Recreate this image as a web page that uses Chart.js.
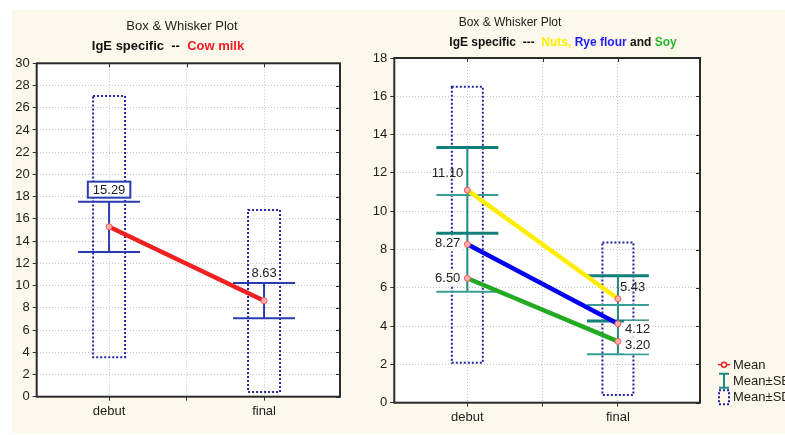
<!DOCTYPE html>
<html>
<head>
<meta charset="utf-8">
<script src="https://cdn.jsdelivr.net/npm/chart.js@4.4.1/dist/chart.umd.min.js"></script>
<style>
body{margin:0;background:#fff;width:785px;height:435px;overflow:hidden;position:relative}
#fondo{position:absolute;left:12px;top:10px;width:773px;height:423px;background:#fdf8ec}
#caja1{position:absolute;left:12px;top:10px;width:343px;height:423px}
#caja2{position:absolute;left:355px;top:10px;width:430px;height:423px}
</style>
</head>
<body>
<div id="fondo"></div>
<div id="caja1"><canvas id="leche" width="343" height="423"></canvas></div>
<div id="caja2"><canvas id="otros" width="430" height="423"></canvas></div>
<script>
// categorías (eje x lineal: debut = 1, final = 2)
var categorias = ['debut', 'final'];
var posiciones = [1, 2];

// gráfico izquierdo: Cow milk
var mediaLeche = [15.29, 8.63];
var seLecheMin = [13.02, 7.05];
var seLecheMax = [17.55, 10.23];
var sdLecheMin = [3.55, 0.42];
var sdLecheMax = [27.05, 16.8];

// gráfico derecho: Nuts, Rye flour, Soy
var mediaNuts = [11.10, 5.43];
var mediaRye = [8.27, 4.12];
var mediaSoy = [6.50, 3.20];
var seNutsMin = [8.85, 4.27];
var seNutsMax = [13.32, 6.63];
var seRyeMin = [5.8, 2.53];
var seRyeMax = [10.85, 5.1];
var sdOtrosMin = [2.09, 0.4];
var sdOtrosMax = [16.5, 8.36];

var FUENTE = '"Liberation Sans", Arial, sans-serif';

function puntos(valores) {
    return posiciones.map(function (x, i) { return {x: x, y: valores[i]}; });
}

// configuración de cajas, bigotes y etiquetas por canvas
var extras = {
    leche: {
        sd: {min: sdLecheMin, max: sdLecheMax, medio: 16},
        se: [{min: seLecheMin, max: seLecheMax, color: '#2a3cb0', ancho: 2}],
        colorSe: '#2a3cb0',
        etiquetas: [
            {x: 1, y: seLecheMax[0], texto: mediaLeche[0].toFixed(2), dx: 0, dy: -12, align: 'center', caja: true},
            {x: 2, y: seLecheMax[1], texto: mediaLeche[1].toFixed(2), dx: 0, dy: -10, align: 'center'}
        ],
        titulo: {x: 170, y: 16, x2: 156, y2: 36, tam: 13,
            partes: [['IgE specific  --  ', '#111'], ['Cow milk', '#ee1c24']]}
    },
    otros: {
        sd: {min: sdOtrosMin, max: sdOtrosMax, medio: 15.5},
        se: [{min: seNutsMin, max: seNutsMax, color: '#12807a', ancho: 3},
             {min: seRyeMin, max: seRyeMax, color: '#3a9e98', ancho: 2}],
        colorSe: '#1f8a84',
        etiquetas: [
            {x: 1, y: mediaNuts[0], texto: mediaNuts[0].toFixed(2), dx: -4, dy: -17, align: 'right'},
            {x: 1, y: mediaRye[0], texto: mediaRye[0].toFixed(2), dx: -7, dy: -1, align: 'right', fondo: true},
            {x: 1, y: mediaSoy[0], texto: mediaSoy[0].toFixed(2), dx: -7, dy: -0.5, align: 'right', fondo: true},
            {x: 2, y: mediaNuts[1], texto: mediaNuts[1].toFixed(2), dx: 2, dy: -12, align: 'left'},
            {x: 2, y: mediaRye[1], texto: mediaRye[1].toFixed(2), dx: 7, dy: 5, align: 'left', fondo: true},
            {x: 2, y: mediaSoy[1], texto: mediaSoy[1].toFixed(2), dx: 7, dy: 4, align: 'left', fondo: true}
        ],
        titulo: {x: 155, y: 13, x2: 208, y2: 33, tam: 12,
            partes: [['IgE specific  ---  ', '#111'], ['Nuts, ', '#ffee00'], ['Rye flour', '#1c1cff'],
                     [' and ', '#111'], ['Soy', '#2db52d']]},
        leyenda: true
    }
};

var pluginCajas = {
    id: 'cajas',
    beforeDraw: function (chart) {
        var a = chart.chartArea, ctx = chart.ctx;
        ctx.save();
        ctx.fillStyle = '#ffffff';
        ctx.fillRect(a.left, a.top, a.width, a.height);
        ctx.restore();
    },
    beforeDatasetsDraw: function (chart) {
        var cfg = extras[chart.canvas.id];
        var ctx = chart.ctx, sx = chart.scales.x, sy = chart.scales.y;
        ctx.save();
        // cajas Mean±SD punteadas
        ctx.strokeStyle = '#2323a8';
        ctx.lineWidth = 2;
        ctx.setLineDash([2, 2]);
        posiciones.forEach(function (p, i) {
            var cx = sx.getPixelForValue(p);
            var y1 = sy.getPixelForValue(cfg.sd.max[i]);
            var y2 = sy.getPixelForValue(cfg.sd.min[i]);
            ctx.strokeRect(cx - cfg.sd.medio, y1, cfg.sd.medio * 2, y2 - y1);
        });
        ctx.setLineDash([]);
        // bigotes Mean±SE
        posiciones.forEach(function (p, i) {
            var cx = sx.getPixelForValue(p);
            var alto = Math.max.apply(null, cfg.se.map(function (s) { return s.max[i]; }));
            var bajo = Math.min.apply(null, cfg.se.map(function (s) { return s.min[i]; }));
            ctx.strokeStyle = cfg.colorSe;
            ctx.lineWidth = 2;
            ctx.beginPath();
            ctx.moveTo(cx, sy.getPixelForValue(alto));
            ctx.lineTo(cx, sy.getPixelForValue(bajo));
            ctx.stroke();
            cfg.se.forEach(function (s) {
                ctx.strokeStyle = s.color;
                ctx.lineWidth = s.ancho;
                [s.max[i], s.min[i]].forEach(function (v) {
                    var py = sy.getPixelForValue(v);
                    ctx.beginPath();
                    ctx.moveTo(cx - 31, py);
                    ctx.lineTo(cx + 31, py);
                    ctx.stroke();
                });
            });
        });
        ctx.restore();
    },
    afterDatasetsDraw: function (chart) {
        var cfg = extras[chart.canvas.id];
        var ctx = chart.ctx, sx = chart.scales.x, sy = chart.scales.y;
        ctx.save();
        ctx.font = '13px ' + FUENTE;
        ctx.textBaseline = 'middle';
        ctx.textAlign = 'left';
        cfg.etiquetas.forEach(function (e) {
            var px = sx.getPixelForValue(e.x) + e.dx;
            var py = sy.getPixelForValue(e.y) + e.dy;
            var w = ctx.measureText(e.texto).width;
            var x0 = e.align === 'center' ? px - w / 2 : (e.align === 'right' ? px - w : px);
            if (e.fondo) {
                ctx.fillStyle = '#ffffff';
                ctx.fillRect(x0 - 1, py - 8, w + 2, 16);
            }
            if (e.caja) {
                ctx.fillStyle = '#ffffff';
                ctx.fillRect(x0 - 5, py - 8, w + 10, 16);
                ctx.strokeStyle = '#2a3cb0';
                ctx.lineWidth = 2;
                ctx.strokeRect(x0 - 5, py - 8, w + 10, 16);
            }
            ctx.fillStyle = '#222';
            ctx.fillText(e.texto, x0, py + 0.5);
        });
        ctx.restore();
    },
    afterDraw: function (chart) {
        var cfg = extras[chart.canvas.id];
        var a = chart.chartArea, ctx = chart.ctx, sx = chart.scales.x, sy = chart.scales.y;
        ctx.save();
        // marco del área
        ctx.strokeStyle = '#2b2b2b';
        ctx.lineWidth = 2;
        ctx.strokeRect(a.left, a.top, a.width, a.height);
        // marcas interiores derecha y arriba
        ctx.lineWidth = 1;
        sy.ticks.forEach(function (t) {
            var py = Math.round(sy.getPixelForValue(t.value)) + 0.5;
            ctx.beginPath(); ctx.moveTo(a.right - 4, py); ctx.lineTo(a.right, py); ctx.stroke();
        });
        sx.ticks.forEach(function (t) {
            var px = Math.round(sx.getPixelForValue(t.value)) + 0.5;
            ctx.beginPath(); ctx.moveTo(px, a.top); ctx.lineTo(px, a.top + 4); ctx.stroke();
        });
        // títulos
        var t = cfg.titulo;
        ctx.textBaseline = 'middle';
        ctx.textAlign = 'center';
        ctx.fillStyle = '#222';
        ctx.font = t.tam + 'px ' + FUENTE;
        ctx.fillText('Box & Whisker Plot', t.x, t.y);
        ctx.font = 'bold ' + t.tam + 'px ' + FUENTE;
        ctx.textAlign = 'left';
        var total = 0;
        t.partes.forEach(function (p) { total += ctx.measureText(p[0]).width; });
        var xp = t.x2 - total / 2;
        t.partes.forEach(function (p) {
            ctx.fillStyle = p[1];
            ctx.fillText(p[0], xp, t.y2);
            xp += ctx.measureText(p[0]).width;
        });
        // leyenda
        if (cfg.leyenda) {
            var lx = a.right + 18;
            var filas = [a.bottom - 38, a.bottom - 22, a.bottom - 5.5];
            ctx.strokeStyle = '#ee2222';
            ctx.lineWidth = 1.5;
            ctx.beginPath(); ctx.moveTo(lx, filas[0]); ctx.lineTo(lx + 12, filas[0]); ctx.stroke();
            ctx.fillStyle = '#fff';
            ctx.beginPath(); ctx.arc(lx + 6, filas[0], 2.5, 0, Math.PI * 2); ctx.fill(); ctx.stroke();
            ctx.strokeStyle = '#1f8a84';
            ctx.lineWidth = 2;
            ctx.beginPath();
            ctx.moveTo(lx + 1, filas[1] - 7); ctx.lineTo(lx + 11, filas[1] - 7);
            ctx.moveTo(lx + 6, filas[1] - 7); ctx.lineTo(lx + 6, filas[1] + 7);
            ctx.moveTo(lx + 1, filas[1] + 7); ctx.lineTo(lx + 11, filas[1] + 7);
            ctx.stroke();
            ctx.strokeStyle = '#2323a8';
            ctx.setLineDash([2, 2]);
            ctx.strokeRect(lx + 1, filas[2] - 7, 10, 14);
            ctx.setLineDash([]);
            ctx.font = '13px ' + FUENTE;
            ctx.fillStyle = '#222';
            ['Mean', 'Mean\u00b1SE', 'Mean\u00b1SD'].forEach(function (txt, i) {
                ctx.fillText(txt, lx + 15, filas[i] + 0.5);
            });
        }
        ctx.restore();
    }
};

function opciones(yMax, xMin, xMax, anchoY, altoX, relleno) {
    return {
        responsive: false,
        animation: false,
        layout: {padding: relleno},
        plugins: {legend: {display: false}, tooltip: {enabled: false}, title: {display: false}},
        scales: {
            x: {
                type: 'linear', min: xMin, max: xMax,
                afterBuildTicks: function (s) { s.ticks = [{value: 1}, {value: 1.5}, {value: 2}]; },
                afterFit: function (s) { s.height = altoX; },
                ticks: {
                    callback: function (v) { return categorias[posiciones.indexOf(v)] || ''; },
                    color: '#222', font: {size: 13, family: FUENTE}, padding: 3, maxRotation: 0, autoSkip: false
                },
                grid: {color: '#c4c4c4', tickColor: '#333', tickLength: 4},
                border: {display: false, dash: [1, 2]}
            },
            y: {
                min: 0, max: yMax,
                afterFit: function (s) { s.width = anchoY; },
                ticks: {stepSize: 2, color: '#222', font: {size: 13, family: FUENTE}, padding: 3},
                grid: {color: '#c4c4c4', tickColor: '#333', tickLength: 4},
                border: {display: false, dash: [1, 2]}
            }
        }
    };
}

function serieMedia(valores, color) {
    return {
        type: 'line', data: puntos(valores),
        borderColor: color, borderWidth: 4.5,
        pointRadius: 3, pointBorderWidth: 1,
        pointBorderColor: '#ff5a5a', pointBackgroundColor: '#ffb0b0'
    };
}

new Chart(document.getElementById('leche').getContext('2d'), {
    type: 'line',
    data: {datasets: [serieMedia(mediaLeche, '#ee2222')]},
    options: opciones(30, 0.533, 2.49, 24.7, 36.3, {top: 53.3, right: 15, left: 0, bottom: 0}),
    plugins: [pluginCajas]
});

new Chart(document.getElementById('otros').getContext('2d'), {
    type: 'line',
    data: {datasets: [
        serieMedia(mediaNuts, '#ffee00'),
        serieMedia(mediaRye, '#0000ee'),
        serieMedia(mediaSoy, '#22aa22')
    ]},
    options: opciones(18, 0.515, 2.545, 39.3, 30.3, {top: 48, right: 85, left: 0, bottom: 0}),
    plugins: [pluginCajas]
});
</script>
</body>
</html>
